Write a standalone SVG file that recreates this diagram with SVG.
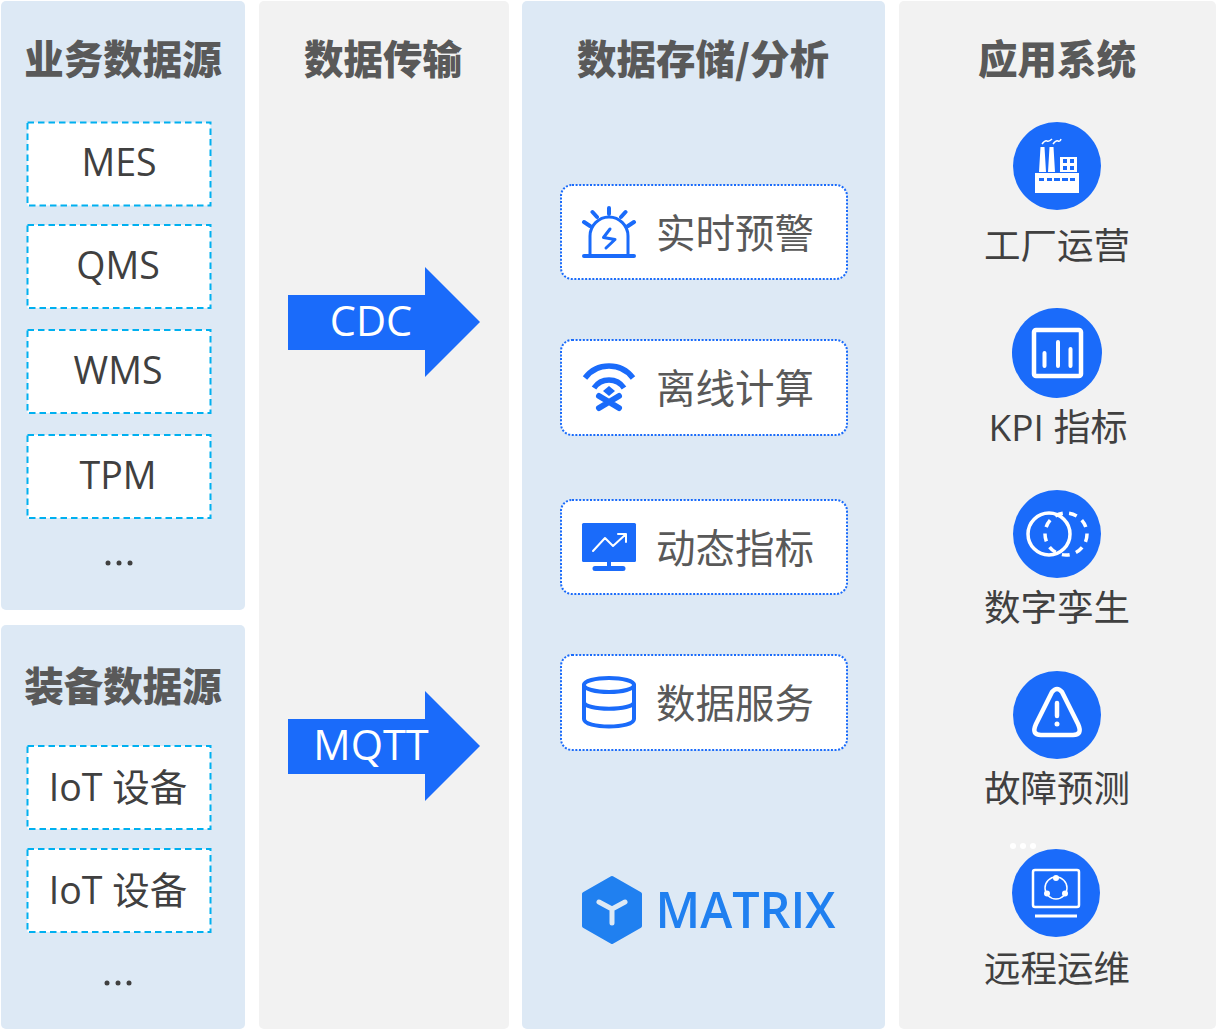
<svg xmlns="http://www.w3.org/2000/svg" width="1216" height="1030" viewBox="0 0 1216 1030">
<style>
.bg{fill:#dde9f5}.gr{fill:#f2f2f2}
text{font-family:"Open Sans","Noto Sans CJK SC",sans-serif;text-anchor:middle}
.t{font-family:"Noto Sans CJK SC",sans-serif;font-size:39.500px;font-weight:900;fill:#595959}
.b{fill:#fff;stroke:#00b0f0;stroke-width:2;stroke-dasharray:6.500 4}
.bt{font-size:37.500px;fill:#404040}
.c{fill:#fff;stroke:#1a6bfa;stroke-width:2;stroke-dasharray:2 1.600}
.ct{font-family:"Noto Sans CJK SC",sans-serif;font-size:39.500px;fill:#595959}
.at{font-size:41.500px;fill:#fff}
.a{fill:#1a6bfa}
.l{font-size:36.500px;fill:#404040;font-family:"Noto Sans CJK SC",sans-serif}
.s{fill:none;stroke:#1a6bfa;stroke-width:4;stroke-linecap:round;stroke-linejoin:round}
.w{fill:none;stroke:#fff;stroke-width:4;stroke-linecap:round;stroke-linejoin:round}
</style>
<rect width="1216" height="1030" fill="#fff"/>
<g id="col-sources">
<rect class="bg" x="1" y="1" width="244" height="609" rx="5"/>
<rect class="bg" x="1" y="625" width="244" height="404" rx="5"/>
<text class="t" x="123" y="74">业务数据源</text>
<text class="t" x="123" y="701">装备数据源</text>
</g>
<rect id="col-transport" class="gr" x="259" y="1" width="250" height="1028" rx="5"/>
<rect id="col-storage" class="bg" x="522" y="1" width="363" height="1028" rx="5"/>
<rect id="col-apps" class="gr" x="899" y="1" width="317" height="1028" rx="5"/>
<text class="t" x="383" y="74">数据传输</text>
<text class="t" x="703" y="74">数据存储/分析</text>
<text class="t" x="1057" y="74">应用系统</text>
<g id="n-mes"><rect class="b" x="27.500" y="122.500" width="183" height="83"/><text class="bt" x="119" y="176">MES</text></g>
<g id="n-qms"><rect class="b" x="27.500" y="225" width="183" height="83"/><text class="bt" x="118" y="279">QMS</text></g>
<g id="n-wms"><rect class="b" x="27.500" y="330" width="183" height="83"/><text class="bt" x="118" y="384">WMS</text></g>
<g id="n-tpm"><rect class="b" x="27.500" y="435" width="183" height="83"/><text class="bt" x="118" y="489">TPM</text></g>
<g id="more1" fill="#404040"><circle cx="108" cy="563" r="2.500"/><circle cx="119" cy="563" r="2.500"/><circle cx="130" cy="563" r="2.500"/></g>
<g id="n-iot1"><rect class="b" x="27.500" y="746" width="183" height="83"/><text class="bt" x="118" y="801">IoT 设备</text></g>
<g id="n-iot2"><rect class="b" x="27.500" y="849" width="183" height="83"/><text class="bt" x="118" y="904">IoT 设备</text></g>
<g id="more2" fill="#404040"><circle cx="107" cy="983" r="2.500"/><circle cx="118" cy="983" r="2.500"/><circle cx="129" cy="983" r="2.500"/></g>
<g id="connectors">
<path class="a" d="M288 295H425V267L480 322L425 377V350H288Z"/>
<path class="a" d="M288 719H425V691L480 746L425 801V774H288Z"/>
<text class="at" x="371" y="336">CDC</text>
<text class="at" x="371" y="760">MQTT</text>
</g>
<g id="n-alert"><rect class="c" x="561" y="185" width="286" height="94" rx="11"/>
<path class="s" style="stroke-width:3" d="M590 255V236a19 19 0 0 1 38 0V255"/>
<path class="s" d="M584 256H634M609 208V214M592.500 212L597 217M625.500 212L621 217M584 222L590 226M634 222L628 226"/>
<path class="s" style="stroke-width:3" d="M610 229L603.500 237.500L615 239.500L606 248"/>
<text class="ct" x="735" y="248">实时预警</text></g>
<g id="n-offline"><rect class="c" x="561" y="340" width="286" height="95" rx="11"/>
<path class="s" style="stroke-width:5.500;stroke-linecap:butt" d="M585 378a30 30 0 0 1 48 0M594 388a18 18 0 0 1 30 0"/>
<path class="a" d="M609 386l6 5-6 5-6-5Z"/>
<path class="s" style="stroke-width:6" d="M599 396L619 408M619 396L599 408"/>
<text class="ct" x="735" y="403">离线计算</text></g>
<g id="n-metric"><rect class="c" x="561" y="500" width="286" height="94" rx="11"/>
<rect class="a" x="582" y="523" width="54" height="39" rx="1.500"/>
<path class="a" d="M607 560h4v6h12a2 2 0 0 1 0 5h-28a2 2 0 0 1 0-5h12Z"/>
<path class="w" style="stroke-width:2" d="M593 551L605 538L613 546L625 535M618 534H626V542"/>
<text class="ct" x="735" y="563">动态指标</text></g>
<g id="n-service"><rect class="c" x="561" y="655" width="286" height="95" rx="11"/>
<path class="s" d="M584 685V719c0 10 50 10 50 0V685M584 702c0 9 50 9 50 0"/>
<ellipse class="s" cx="609" cy="685" rx="25" ry="7"/>
<text class="ct" x="735" y="718">数据服务</text></g>
<g id="logo">
<path fill="#2080f0" stroke="#2080f0" stroke-width="4" stroke-linejoin="round" d="M612 878L640 894V926L612 942L584 926V894Z"/>
<path fill="none" stroke="#dde9f5" stroke-width="5" stroke-linecap="round" stroke-linejoin="round" d="M599 902L612 909L625 902M612 909V923"/>
<text x="745.500" y="928" style="font-family:'Open Sans',sans-serif;font-size:50px;font-weight:600;fill:#2080f0" textLength="180" lengthAdjust="spacingAndGlyphs">MATRIX</text>
</g>
<g id="app-factory"><circle class="a" cx="1057" cy="166" r="44"/>
<path fill="#fff" d="M1035 173H1079V193H1035ZM1039 172L1040.500 147H1044.500L1046 172ZM1048 172L1049.500 147H1053.500L1055 172ZM1060 157H1077V172H1060Z"/>
<path class="a" d="M1039 178h5v3h-5ZM1047 178h5v3h-5ZM1054 178h6v3h-6ZM1062 178h6v3h-6ZM1070 178h5v3h-5ZM1063 159h4v4h-4ZM1070 159h4v4h-4ZM1063 166h4v4h-4ZM1070 166h4v4h-4Z"/>
<path d="M1042 144q3-4 5-3t5-2M1053 144q3-4 5-3t3-2" stroke="#fff" stroke-width="1.500" fill="none"/>
<text class="l" x="1057" y="259">工厂运营</text></g>
<g id="app-kpi"><circle class="a" cx="1057" cy="353" r="45"/>
<rect x="1034" y="330" width="47" height="46" rx="2" fill="none" stroke="#fff" stroke-width="4.500"/>
<path class="w" d="M1044.500 353V366M1058 342V366M1070.500 349V366"/>
<text class="l" x="1058" y="441" style="font-family:'Open Sans','Noto Sans CJK SC',sans-serif;font-size:37px">KPI 指标</text></g>
<g id="app-twin"><circle class="a" cx="1057" cy="534" r="44"/>
<circle cx="1049" cy="534" r="21" fill="none" stroke="#fff" stroke-width="3.500"/>
<circle cx="1066" cy="534" r="21" fill="none" stroke="#fff" stroke-width="3.500" stroke-dasharray="8 6.500"/>
<text class="l" x="1057" y="621">数字孪生</text></g>
<g id="app-fault"><circle class="a" cx="1057" cy="715" r="44"/>
<path class="w" style="stroke-width:4.500" d="M1052 692q5-6 10 0L1078 724q5 11-5 11H1041q-10 0-5-11Z"/>
<path class="w" style="stroke-width:4.500" d="M1057 703V716"/><circle cx="1057" cy="724" r="2.500" fill="#fff"/>
<text class="l" x="1057" y="802">故障预测</text></g>
<g id="more3" fill="#fff"><circle cx="1013" cy="846" r="3"/><circle cx="1023" cy="846" r="3"/><circle cx="1033" cy="846" r="3"/></g>
<g id="app-remote"><circle class="a" cx="1056" cy="893" r="44"/>
<rect x="1033" y="870" width="46" height="37" rx="2" fill="none" stroke="#fff" stroke-width="2.500"/>
<path d="M1035 916H1077" stroke="#fff" stroke-width="3"/>
<circle cx="1056" cy="888" r="11" fill="none" stroke="#fff" stroke-width="1.500"/>
<circle cx="1056" cy="878" r="3" fill="#fff"/><circle cx="1047" cy="893.500" r="3" fill="#fff"/><circle cx="1065" cy="893.500" r="3" fill="#fff"/>
<text class="l" x="1057" y="982">远程运维</text></g>
</svg>
